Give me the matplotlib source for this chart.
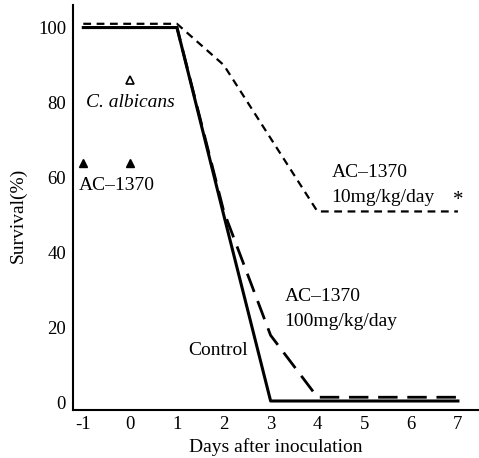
import matplotlib
matplotlib.use('Agg')
import matplotlib.pyplot as plt

plt.rcParams['font.family'] = ['Liberation Serif', 'DejaVu Serif']

# survival (%) by day after inoculation
days = [-1, 0, 1, 2, 3, 4, 5, 6, 7]
control = [100, 100, 100, 50, 0.5, 0.5, 0.5, 0.5, 0.5]
ac100 = [100, 100, 100, 51, 18, 1.5, 1.5, 1.5, 1.5]
ac10 = [101, 101, 101, 90, 70.5, 51, 51, 51, 51]

# dosing marks
cand_x = [0]
cand_y = [86]
dose_x = [-1, 0]
dose_y = [64, 64]

fig = plt.figure(figsize=(4.79, 4.58), dpi=100)
ax = fig.add_axes([0.1524, 0.1048, 0.8476, 0.8842])

ax.plot(days, control, 'k-', lw=2.2)
ax.plot(days, ac100, color='k', lw=2, dashes=(7, 3.5))
ax.plot(days, ac10, color='k', lw=1.6, dashes=(3.5, 2.5))

ax.plot(cand_x, cand_y, marker='^', ms=6, mfc='white', mec='k', mew=1.2, ls='none')
ax.plot(dose_x, dose_y, marker='^', ms=6, color='k', ls='none')

ax.text(0, 80, 'C. albicans', style='italic', fontsize=14, ha='center', va='center')
ax.text(-1.1, 58, 'AC\u20131370', fontsize=14, ha='left', va='center')
ax.text(4.3, 58, 'AC\u20131370\n10mg/kg/day', fontsize=14, ha='left', va='center', linespacing=1.6)
ax.text(7, 54, '*', fontsize=15, ha='center', va='center')
ax.text(3.3, 25, 'AC\u20131370\n100mg/kg/day', fontsize=14, ha='left', va='center', linespacing=1.6)
ax.text(1.87, 14, 'Control', fontsize=14, ha='center', va='center')

ax.set_xlim(-1.22, 7.45)
ax.set_ylim(-1.9, 106)
ax.set_xticks(days)
ax.set_xticklabels([str(d) for d in days])
ax.set_yticks([0, 20, 40, 60, 80, 100])
ax.tick_params(axis='x', length=0, labelsize=13.5, pad=4)
ax.tick_params(axis='y', length=0, labelsize=13.5, pad=5)
ax.spines['top'].set_visible(False)
ax.spines['right'].set_visible(False)
ax.spines['left'].set_linewidth(1.5)
ax.spines['bottom'].set_linewidth(1.5)
ax.set_xlabel('Days after inoculation', fontsize=14, labelpad=4)
ax.set_ylabel('Survival(%)', fontsize=14)
ax.yaxis.set_label_coords(-0.115, 0.48)

plt.savefig('out.png', dpi=100)
